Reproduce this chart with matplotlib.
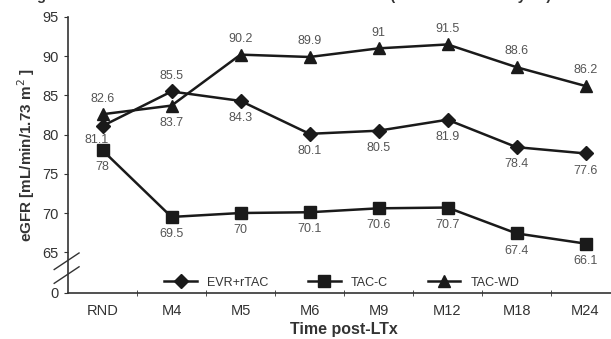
import matplotlib
matplotlib.use('Agg')
import matplotlib.pyplot as plt

plt.rcParams['font.family'] = ['Liberation Sans', 'DejaVu Sans']

categories = ['RND', 'M4', 'M5', 'M6', 'M9', 'M12', 'M18', 'M24']
evr_rtac = [81.1, 85.5, 84.3, 80.1, 80.5, 81.9, 78.4, 77.6]
tac_c = [78, 69.5, 70, 70.1, 70.6, 70.7, 67.4, 66.1]
tac_wd = [82.6, 83.7, 90.2, 89.9, 91, 91.5, 88.6, 86.2]

# label placement per point: True = above the marker
evr_above = [False, True, False, False, False, False, False, False]
tacc_above = [False] * 8
tacwd_above = [True, False, True, True, True, True, True, True]

yticks = [65, 70, 75, 80, 85, 90, 95]
Y_ZERO = 59.8   # where the broken axis puts "0"

fig = plt.figure(figsize=(6.11, 3.39), dpi=100)
ax = fig.add_axes([68 / 611, 1 - 293 / 339, 552 / 611, (293 - 17) / 339])

x = list(range(len(categories)))
line_kw = dict(color='#1a1a1a', linewidth=1.8, markersize=8,
               markerfacecolor='#1a1a1a', markeredgecolor='#1a1a1a')
ax.plot(x, evr_rtac, marker='D', label='EVR+rTAC', zorder=3,
        **{**line_kw, 'markersize': 7})
ax.plot(x, tac_c, marker='s', label='TAC-C', zorder=3, **line_kw)
ax.plot(x, tac_wd, marker='^', label='TAC-WD', zorder=3,
        **{**line_kw, 'markersize': 9})

for name, series, above in [('evr', evr_rtac, evr_above), ('tacc', tac_c, tacc_above),
                            ('tacwd', tac_wd, tacwd_above)]:
    for xi, (v, up) in enumerate(zip(series, above)):
        dx, dy = 0, (7 if up else -8)
        if name == 'evr' and xi == 0:
            # crowded start: label tucked closer, slightly left
            dx, dy = -4, -6
        ax.annotate(f'{v:g}', (xi, v), xytext=(dx, dy),
                    textcoords='offset points', ha='center',
                    va='bottom' if up else 'top', fontsize=9, color='#555555')

ax.set_xlim(-0.5, 7.5)
ax.set_ylim(Y_ZERO, 95)
ax.set_yticks([Y_ZERO] + yticks)
ax.set_yticklabels(['0'] + [str(t) for t in yticks])
ax.set_xticks(x)
ax.set_xticklabels(categories)
ax.set_xticks([i + 0.5 for i in range(len(categories))], minor=True)
ax.tick_params(axis='x', which='major', length=0, pad=8, labelsize=10.5, labelcolor='#333333')
ax.tick_params(axis='x', which='minor', direction='inout', length=5, color='#333333')
ax.tick_params(axis='y', length=3, labelsize=10.5, labelcolor='#333333', color='#333333')

for side in ('top', 'right'):
    ax.spines[side].set_visible(False)
for side in ('left', 'bottom'):
    ax.spines[side].set_color('#333333')
    ax.spines[side].set_linewidth(1.2)

# break marks on the y axis
for yb in (0.115, 0.065):
    ax.plot([-0.025, 0.02], [yb - 0.03, yb + 0.03], transform=ax.transAxes,
            color='#333333', linewidth=1.0, clip_on=False)

ax.set_ylabel('eGFR [mL/min/1.73 m$^2$ ]', fontsize=11, fontweight='bold',
              color='#333333', labelpad=4)
ax.set_xlabel('Time post-LTx', fontsize=11.5, fontweight='bold', color='#333333', labelpad=3)

ax.legend(loc='lower center', bbox_to_anchor=(0.496, -0.025), ncol=3, frameon=False,
          fontsize=9, handlelength=2.6, columnspacing=3.2, labelcolor='#333333')

fig.text(0.47, 1 + 4 / 339, 'Figure: Evolution of renal function from RND to M24 (on-treatment analysis)',
         ha='center', va='center', fontsize=10.5, fontweight='bold', color='#333333')

fig.savefig('out.png', dpi=100)
